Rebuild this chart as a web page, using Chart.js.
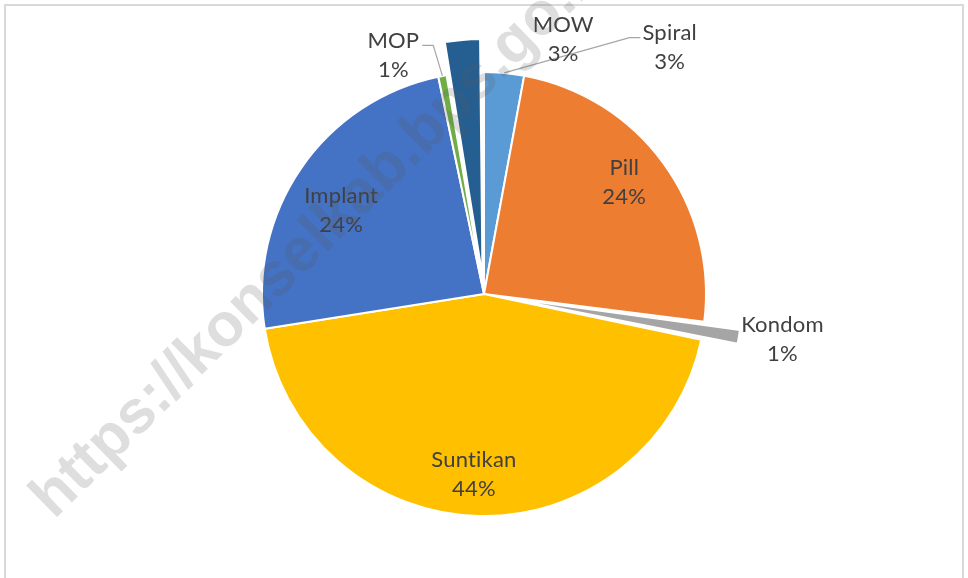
<!DOCTYPE html>
<html>
<head>
<meta charset="utf-8">
<script src="https://cdn.jsdelivr.net/npm/chart.js@4/dist/chart.umd.min.js"></script>
<style>
  html, body { margin: 0; padding: 0; background: #fff; }
  #pie-chart { display: block; }
</style>
</head>
<body>
<canvas id="pie-chart" width="968" height="578"></canvas>
<script>
var categories = ["Spiral", "Pill", "Kondom", "Suntikan", "Implant", "MOP", "MOW"];
var shares = [2.9, 24.1, 1.3, 44.2, 24.2, 0.6, 2.7];
var percentLabels = ["3%", "24%", "1%", "44%", "24%", "1%", "3%"];

var sliceColors = ["#5b9bd5", "#ed7d31", "#a5a5a5", "#ffc000", "#4472c4", "#70ad47", "#255e91"];
// chart.js moves small slices by roughly offset/2
var exploded = [0, 0, 76, 0, 0, 0, 72];

// where each label sits: angle clockwise from 12 o'clock, distance in radii
var labelPlace = [
  { angle: 37, dist: 1.39, leader: "left" },
  { angle: 51.6, dist: 0.806 },
  { angle: 98.7, dist: 1.36 },
  { angle: 183.2, dist: 0.815 },
  { angle: 300.4, dist: 0.746 },
  { angle: 339.2, dist: 1.15, leader: "right" },
  { angle: 17.3, dist: 1.2 },
];

var labelFont = "22px Lato";
var lineGap = 29;

var framePlugin = {
  id: "frame",
  beforeDraw: function (chart) {
    var ctx = chart.ctx;
    ctx.save();
    ctx.strokeStyle = "#d9d9d9";
    ctx.lineWidth = 2;
    ctx.strokeRect(5, 5, 958, 620);
    ctx.restore();
  },
};

var labelPlugin = {
  id: "sliceLabels",
  afterDatasetsDraw: function (chart) {
    var ctx = chart.ctx;
    var arcs = chart.getDatasetMeta(0).data;
    ctx.save();
    ctx.font = labelFont;
    ctx.letterSpacing = "0.2px"; // keeps Lato from joining "ti"
    ctx.fillStyle = "#404040";
    ctx.textAlign = "center";
    ctx.textBaseline = "middle";
    arcs.forEach(function (arc, i) {
      var p = arc.getProps(["x", "y", "startAngle", "endAngle", "outerRadius"], true);
      var place = labelPlace[i];
      var a = (place.angle - 90) * Math.PI / 180;
      var lx = p.x + Math.cos(a) * place.dist * p.outerRadius;
      var ly = p.y + Math.sin(a) * place.dist * p.outerRadius;
      ctx.fillText(categories[i], lx, ly - lineGap / 2);
      ctx.fillText(percentLabels[i], lx, ly + lineGap / 2);

      if (place.leader) {
        var w = Math.max(ctx.measureText(categories[i]).width, ctx.measureText(percentLabels[i]).width);
        var mid = (p.startAngle + p.endAngle) / 2;
        var ax = p.x + Math.cos(mid) * p.outerRadius;
        var ay = p.y + Math.sin(mid) * p.outerRadius;
        var sx, ex;
        if (place.leader === "left") {
          sx = lx - w / 2 - 2;
          ex = sx - 11;
        } else {
          sx = lx + w / 2 + 3;
          ex = sx + 11;
        }
        var sy = ly - 10;
        ctx.beginPath();
        ctx.strokeStyle = "#a6a6a6";
        ctx.lineWidth = 1.2;
        ctx.moveTo(sx, sy);
        ctx.lineTo(ex, sy);
        ctx.lineTo(ax, ay);
        ctx.stroke();
      }
    });
    ctx.restore();
  },
};

var watermarkPlugin = {
  id: "watermark",
  afterDraw: function (chart) {
    var ctx = chart.ctx;
    ctx.save();
    ctx.translate(54, 520);
    ctx.rotate(-44.5 * Math.PI / 180);
    ctx.font = "bold 61px 'Liberation Sans'";
    ctx.fillStyle = "rgba(90, 90, 90, 0.2)";
    ctx.textAlign = "left";
    ctx.textBaseline = "alphabetic";
    ctx.fillText("https://konselkab.bps.go.id", 0, 0);
    ctx.restore();
  },
};

var config = {
  type: "pie",
  data: {
    labels: categories,
    datasets: [
      {
        data: shares,
        backgroundColor: sliceColors,
        borderColor: "#ffffff",
        borderWidth: 2,
        offset: exploded,
      },
    ],
  },
  options: {
    responsive: false,
    animation: false,
    radius: 222,
    layout: { padding: { top: 10 } },
    plugins: {
      legend: { display: false },
      tooltip: { enabled: false },
    },
  },
  plugins: [framePlugin, labelPlugin, watermarkPlugin],
};

var ctxOne = document.getElementById("pie-chart").getContext("2d");
new Chart(ctxOne, config);
</script>
</body>
</html>
